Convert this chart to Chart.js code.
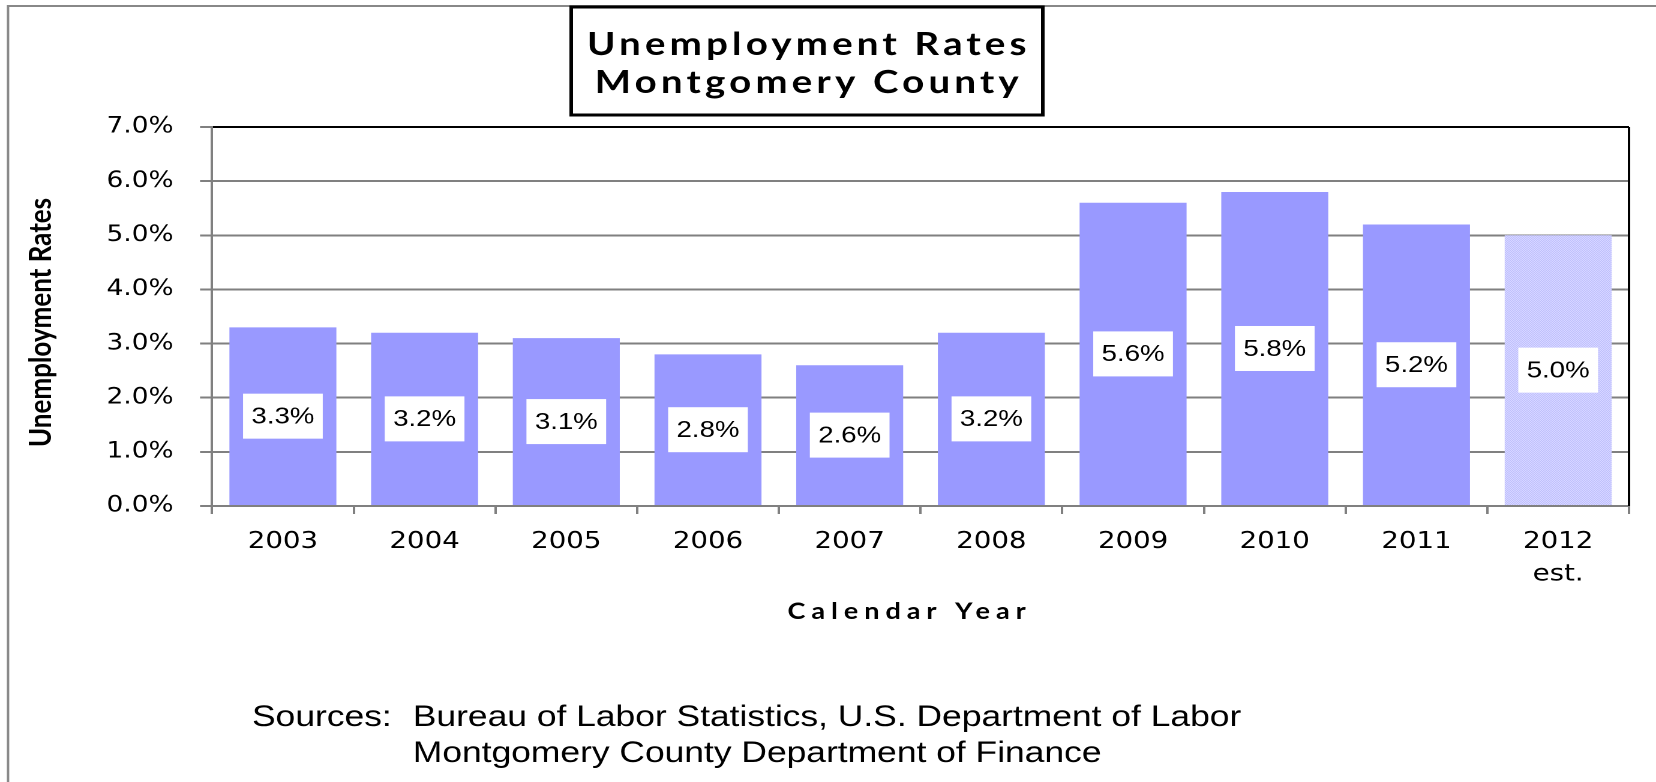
<!DOCTYPE html>
<html>
<head>
<meta charset="utf-8">
<title>Unemployment Rates - Montgomery County</title>
<script src="https://cdn.jsdelivr.net/npm/chart.js@4.4.1/dist/chart.umd.min.js"></script>
<style>
	html, body { margin: 0; padding: 0; background: #fff; overflow: hidden; }
	/* the whole chart is drawn narrow and widened by 1.2 */
	#chart-container { width: 1380px; height: 782px; transform: scaleX(1.2); transform-origin: 0 0; }
</style>
</head>
<body>
<div id="chart-container"><canvas id="chart" width="1380" height="782"></canvas></div>
<script>
var years = ['2003', '2004', '2005', '2006', '2007', '2008', '2009', '2010', '2011', ['2012', 'est.']];
var rates = [3.3, 3.2, 3.1, 2.8, 2.6, 3.2, 5.6, 5.8, 5.2, 5.0];
var estimateIndex = 9;

var yTickMin = 0,
	yTickMax = 7,
	yTickStep = 1;

var chartTitle = ['Unemployment Rates', 'Montgomery County'];
var xTitle = 'Calendar Year';
var yTitle = 'Unemployment Rates';
var sourcesLabel = 'Sources:';
var sources = ['Bureau of Labor Statistics, U.S. Department of Labor', 'Montgomery County Department of Finance'];

var barColor = '#9999ff',
	axisColor = '#808080';

// light checker fill for the estimated year
function makeHatch() {
	var c = document.createElement('canvas');
	c.width = 4;
	c.height = 4;
	var p = c.getContext('2d');
	p.fillStyle = '#ffffff';
	p.fillRect(0, 0, 4, 4);
	p.fillStyle = barColor;
	for (var i = 0; i < 4; i++) {
		p.fillRect(i, i, 1, 1);
		p.fillRect((i + 2) % 4, i, 1, 1);
	}
	return p.createPattern(c, 'repeat');
}

var hatch = makeHatch();
var barColors = rates.map(function (v, i) {
	return i === estimateIndex ? hatch : barColor;
});

/* gray frame round the whole chart */
var framePlugin = {
	id: 'frame',
	beforeDraw: function (chart) {
		var ctx = chart.ctx;
		ctx.save();
		ctx.fillStyle = '#fff';
		ctx.fillRect(0, 0, chart.width, chart.height);
		ctx.strokeStyle = '#888';
		ctx.lineWidth = 2;
		ctx.beginPath();
		ctx.moveTo(6.7, chart.height + 5);
		ctx.lineTo(6.7, 6);
		ctx.lineTo(chart.width + 5, 6);
		ctx.stroke();
		ctx.restore();
	}
};

/* white boxes with the value in the middle of each bar, and the black right edge */
var valuePlugin = {
	id: 'values',
	afterDatasetsDraw: function (chart) {
		var ctx = chart.ctx,
			area = chart.chartArea,
			meta = chart.getDatasetMeta(0);

		ctx.save();
		ctx.strokeStyle = '#000';
		ctx.lineWidth = 2;
		ctx.beginPath();
		ctx.moveTo(area.right, area.top);
		ctx.lineTo(area.right, area.bottom);
		ctx.stroke();

		ctx.font = '23px "Liberation Sans", Arial, sans-serif';
		ctx.textAlign = 'center';
		ctx.textBaseline = 'middle';
		meta.data.forEach(function (bar, i) {
			var text = rates[i].toFixed(1) + '%',
				w = ctx.measureText(text).width + 14,
				h = 45,
				y = (bar.y + bar.base) / 2;
			ctx.fillStyle = '#fff';
			ctx.fillRect(bar.x - w / 2, y - h / 2, w, h);
			ctx.fillStyle = '#000';
			ctx.fillText(text, bar.x, y + 1);
		});
		ctx.restore();
	}
};

/* boxed title, axis titles and sources note */
var textPlugin = {
	id: 'texts',
	afterDraw: function (chart) {
		var ctx = chart.ctx,
			area = chart.chartArea;

		ctx.save();
		ctx.fillStyle = '#000';

		// title box
		ctx.strokeStyle = '#000';
		ctx.lineWidth = 3;
		ctx.strokeRect(476, 7, 393, 108);
		ctx.font = 'bold 32px Lato, sans-serif';
		ctx.textAlign = 'center';
		ctx.textBaseline = 'alphabetic';
		ctx.letterSpacing = '3.5px';
		ctx.fillText(chartTitle[0], 674, 55);
		ctx.fillText(chartTitle[1], 674, 93);

		// x axis title
		ctx.font = 'bold 22.5px Lato, sans-serif';
		ctx.letterSpacing = '5px';
		ctx.fillText(xTitle, 758, 619);
		ctx.letterSpacing = '0px';

		// y axis title
		ctx.save();
		ctx.translate(42.5, (area.top + area.bottom) / 2 + 6);
		ctx.rotate(-Math.PI / 2);
		ctx.font = 'bold 26px Lato, sans-serif';
		ctx.fillText(yTitle, 0, 0);
		ctx.restore();

		// sources
		ctx.font = '29.5px "Liberation Sans", Arial, sans-serif';
		ctx.textAlign = 'left';
		ctx.fillText(sourcesLabel, 210, 726);
		ctx.fillText(sources[0], 344, 726);
		ctx.fillText(sources[1], 344, 762);
		ctx.restore();
	}
};

var chart = new Chart(document.getElementById('chart'), {
	type: 'bar',
	data: {
		labels: years,
		datasets: [{
			data: rates,
			backgroundColor: barColors,
			borderWidth: 0,
			barPercentage: 0.755,
			categoryPercentage: 1
		}]
	},
	options: {
		responsive: false,
		devicePixelRatio: 2,
		animation: false,
		events: [],
		layout: {
			padding: {left: 0, top: 127, right: 22.5, bottom: 186}
		},
		plugins: {
			legend: {display: false},
			tooltip: {enabled: false},
			title: {display: false}
		},
		scales: {
			x: {
				grid: {
					offset: true,
					drawOnChartArea: false,
					drawTicks: true,
					tickLength: 8,
					color: axisColor,
					lineWidth: 2
				},
				border: {color: axisColor, width: 2},
				ticks: {
					color: '#000',
					font: {family: '"DejaVu Sans", Verdana, sans-serif', size: 23, lineHeight: 1.4},
					padding: 12,
					maxRotation: 0,
					autoSkip: false
				},
				afterFit: function (scale) {
					// room for the two-line last label
					scale.height = 90;
				}
			},
			y: {
				min: yTickMin,
				max: yTickMax,
				grid: {
					color: function (c) {
						// top line closes the plot area
						return c.tick && c.tick.value === yTickMax ? '#000' : axisColor;
					},
					tickColor: axisColor,
					lineWidth: 2,
					tickLength: 10
				},
				border: {color: axisColor, width: 2},
				ticks: {
					stepSize: yTickStep,
					color: '#000',
					font: {family: '"DejaVu Sans", Verdana, sans-serif', size: 22},
					padding: 22,
					callback: function (v) {
						return v.toFixed(1) + '%';
					}
				},
				afterFit: function (scale) {
					scale.width = 176.7;
				}
			}
		}
	},
	plugins: [framePlugin, valuePlugin, textPlugin]
});
</script>
</body>
</html>
